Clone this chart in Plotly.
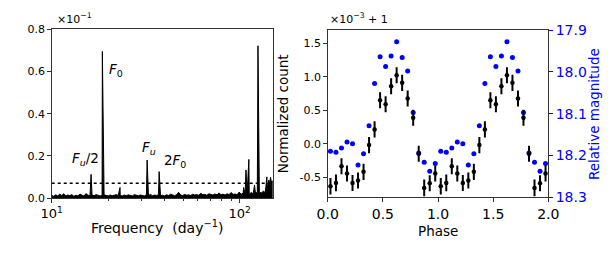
import plotly.graph_objects as go

W, H = 612, 258
FONT = "DejaVu Sans"

# ---------------- Left panel data: periodogram ----------------
noise_freq = [10.0, 10.25, 10.5, 10.77, 11.04, 11.31, 11.6, 11.89, 12.18, 12.49, 12.8, 13.12,
              13.45, 13.79, 14.13, 14.48, 14.85, 15.22, 15.6, 15.99, 16.39, 16.8, 17.22, 17.65,
              18.09, 18.54, 19.0, 19.48, 19.97, 20.47, 20.98, 21.5, 22.04, 22.59, 23.15, 23.73,
              24.33, 24.93, 25.56, 26.2, 26.85, 27.52, 28.21, 28.92, 29.64, 30.38, 31.14, 31.92,
              32.72, 33.53, 34.37, 35.23, 36.11, 37.01, 37.94, 38.89, 39.86, 40.86, 41.88, 42.92,
              44.0, 45.1, 46.22, 47.38, 48.56, 49.78, 51.02, 52.3, 53.6, 54.94, 56.32, 57.73,
              59.17, 60.65, 62.17, 63.72, 65.31, 66.95, 68.62, 70.34, 72.1, 73.9, 75.75, 77.64,
              79.58, 81.57, 83.61, 85.7, 87.85, 90.04, 92.3, 94.6, 96.97, 99.39, 101.9, 104.4,
              107.0, 109.7, 112.5, 115.3, 118.2, 121.1, 124.2, 127.3, 130.4, 133.7, 137.0, 140.5,
              144.0, 147.6, 151.3]
noise_power = [0.012, 0.008, 0.015, 0.010, 0.018, 0.012, 0.020, 0.009, 0.014, 0.011, 0.016, 0.008,
               0.013, 0.010, 0.018, 0.012, 0.009, 0.021, 0.013, 0.010, 0.014, 0.011, 0.016, 0.012,
               0.010, 0.012, 0.015, 0.012, 0.010, 0.014, 0.011, 0.013, 0.016, 0.012, 0.012, 0.010,
               0.014, 0.011, 0.015, 0.012, 0.010, 0.016, 0.013, 0.011, 0.014, 0.012, 0.010, 0.015,
               0.012, 0.017, 0.011, 0.014, 0.012, 0.016, 0.011, 0.013, 0.010, 0.015, 0.012, 0.018,
               0.013, 0.011, 0.016, 0.027, 0.014, 0.012, 0.017, 0.013, 0.015, 0.012, 0.018, 0.014,
               0.016, 0.013, 0.022, 0.015, 0.017, 0.013, 0.020, 0.016, 0.014, 0.019, 0.015, 0.024,
               0.016, 0.018, 0.014, 0.020, 0.016, 0.026, 0.017, 0.019, 0.015, 0.028, 0.018, 0.022,
               0.019, 0.024, 0.018, 0.026, 0.020, 0.030, 0.022, 0.028, 0.024, 0.032, 0.026, 0.045,
               0.060, 0.075, 0.080]
peak_freq = [16.2, 18.6, 23.1, 32.2, 37.3, 105.0, 108.1, 112.0, 120.0, 125.2, 127.0,
             139.6, 143.0, 146.0, 148.6]
peak_power = [0.112, 0.695, 0.050, 0.180, 0.125, 0.050, 0.133, 0.183, 0.062, 0.722, 0.118,
              0.100, 0.085, 0.098, 0.080]
threshold = 0.07
freq_range = [10, 150]
left_yticks = [0.0, 0.2, 0.4, 0.6, 0.8]
left_yticklabels = ["0.0", "0.2", "0.4", "0.6", "0.8"]

# ---------------- Right panel data: folded light curve ----------------
phase_bins = [0.025, 0.075, 0.125, 0.175, 0.225, 0.275, 0.325, 0.375, 0.425, 0.475,
              0.525, 0.575, 0.625, 0.675, 0.725, 0.775, 0.825, 0.875, 0.925, 0.975]
count_norm = [-0.635, -0.585, -0.335, -0.445, -0.585, -0.55, -0.42, -0.02, 0.215, 0.65,
              0.59, 0.86, 1.025, 0.91, 0.675, 0.39, -0.15, -0.66, -0.59, -0.445]
count_err = [0.125, 0.125, 0.12, 0.12, 0.12, 0.12, 0.12, 0.12, 0.12, 0.12,
             0.12, 0.12, 0.12, 0.12, 0.12, 0.12, 0.12, 0.125, 0.12, 0.12]
rel_mag = [18.190, 18.192, 18.182, 18.168, 18.172, 18.223, 18.196, 18.129, 18.028, 17.964,
           17.987, 17.962, 17.928, 17.966, 17.998, 18.097, 18.194, 18.216, 18.238, 18.219]
count_ticks = [-0.5, 0.0, 0.5, 1.0, 1.5]
count_ticklabels = ["-0.5", "0.0", "0.5", "1.0", "1.5"]
mag_ticks = [17.9, 18.0, 18.1, 18.2, 18.3]
mag_ticklabels = ["17.9", "18.0", "18.1", "18.2", "18.3"]
phase_ticks = [0.0, 0.5, 1.0, 1.5, 2.0]
phase_ticklabels = ["0.0", "0.5", "1.0", "1.5", "2.0"]

# build two cycles
phase = phase_bins + [p + 1 for p in phase_bins]
count2 = count_norm + count_norm
err2 = count_err + count_err
mag2 = rel_mag + rel_mag

# merge periodogram points
pts = sorted(zip(noise_freq + peak_freq, noise_power + peak_power))
pfreq = [p[0] for p in pts]
ppow = [p[1] for p in pts]


def fx(x):
    return x / W


def fy(y):
    return 1 - y / H


SPINE = "#333333"
BLUE = "#0000ff"

fig = go.Figure()
fig.add_trace(go.Scatter(x=pfreq, y=ppow, mode="lines", line=dict(color="black", width=1),
                         fill="tozeroy", fillcolor="black", xaxis="x", yaxis="y",
                         showlegend=False, hoverinfo="skip"))
fig.add_trace(go.Scatter(x=freq_range, y=[threshold, threshold], mode="lines",
                         line=dict(color="black", width=1.5, dash="dot"),
                         xaxis="x", yaxis="y", showlegend=False))

fig.add_trace(go.Scatter(x=phase, y=mag2, mode="markers",
                         marker=dict(color=BLUE, size=5),
                         xaxis="x2", yaxis="y2", showlegend=False))
fig.add_trace(go.Scatter(x=phase, y=count2, mode="markers",
                         marker=dict(color="black", size=4.5),
                         error_y=dict(type="data", array=err2, color="black", thickness=2, width=0),
                         xaxis="x2", yaxis="y3", showlegend=False))

common = dict(showline=True, linecolor=SPINE, linewidth=1.2, mirror=True, ticks="outside",
              ticklen=3.5, tickwidth=1, tickcolor=SPINE, showgrid=False, zeroline=False,
              automargin=False)

fig.update_layout(
    template="none",
    width=W, height=H, margin=dict(l=0, r=0, t=0, b=0, pad=0, autoexpand=False),
    paper_bgcolor="white", plot_bgcolor="white",
    font=dict(family=FONT, color="black"),
    xaxis=dict(type="log", domain=[fx(51.7), fx(272.7)], range=[1, 2.176], anchor="y",
               tickvals=[10, 100], ticktext=["10<sup>1</sup>", "10<sup>2</sup>"],
               tickfont=dict(size=13),
               minor=dict(ticks="outside", ticklen=2, tickcolor=SPINE,
                          tickvals=[20, 30, 40, 50, 60, 70, 80, 90]),
               **common),
    yaxis=dict(domain=[fy(198), fy(29.3)], range=[0, 0.8], anchor="x",
               tickvals=left_yticks, ticktext=left_yticklabels, tickfont=dict(size=11),
               **common),
    xaxis2=dict(domain=[fx(327.7), fx(548.3)], range=[0, 2], anchor="y2",
                tickvals=phase_ticks, ticktext=phase_ticklabels, tickfont=dict(size=14),
                **common),
    yaxis2=dict(domain=[fy(197.3), fy(30)], range=[18.3, 17.9], anchor="x2", side="right",
                tickvals=mag_ticks, ticktext=mag_ticklabels,
                tickfont=dict(size=14, color=BLUE),
                showline=True, linecolor=SPINE, linewidth=1.2, ticks="outside", ticklen=3.5,
                tickwidth=1, tickcolor=BLUE, showgrid=False, zeroline=False, automargin=False),
    yaxis3=dict(range=[-0.8, 1.7], anchor="x2", overlaying="y2", side="left",
                tickvals=count_ticks, ticktext=count_ticklabels, tickfont=dict(size=11),
                showline=True, linecolor=SPINE, linewidth=1.2, ticks="outside", ticklen=3.5,
                tickwidth=1, tickcolor=SPINE, showgrid=False, zeroline=False, automargin=False),
)

ann = []
# axis titles
ann.append(dict(text="Frequency  (day<sup>−1</sup>)", x=fx(157.5), y=fy(226.5),
                font=dict(size=14)))
ann.append(dict(text="Phase", x=fx(437.8), y=fy(231), font=dict(size=13.5)))
ann.append(dict(text="Normalized count", x=fx(283.3), y=fy(114), textangle=-90,
                font=dict(size=13.5)))
ann.append(dict(text="Relative magnitude", x=fx(594), y=fy(114), textangle=-90,
                font=dict(size=13.5, color=BLUE)))
# offset texts
ann.append(dict(text="×10<sup>−1</sup>", x=fx(55), y=fy(18), xanchor="left",
                font=dict(size=11)))
ann.append(dict(text="×10<sup>−3</sup> + 1", x=fx(328), y=fy(18), xanchor="left",
                font=dict(size=11)))
for a in ann:
    a.update(xref="paper", yref="paper", showarrow=False)
    a.setdefault("xanchor", "center")
    a.setdefault("yanchor", "middle")

# peak labels (data coordinates; log axis uses log10 x)
labels = [
    ("<i>F</i><sub>0</sub>", 1.2946, 0.605, "left"),
    ("<i>F</i><sub><i>u</i></sub>/2", 1.2627, 0.185, "right"),
    ("<i>F</i><sub><i>u</i></sub>", 1.470, 0.237, "left"),
    ("2<i>F</i><sub>0</sub>", 1.586, 0.175, "left"),
]
for t, x, y, xa in labels:
    ann.append(dict(text=t, x=x, y=y, xref="x", yref="y", showarrow=False,
                    xanchor=xa, yanchor="middle", font=dict(size=13.5)))

fig.update_layout(annotations=ann)
fig.write_html("out.html", config={"displayModeBar": False},
               post_script="document.body.style.margin='0';document.body.style.overflow='hidden';")
